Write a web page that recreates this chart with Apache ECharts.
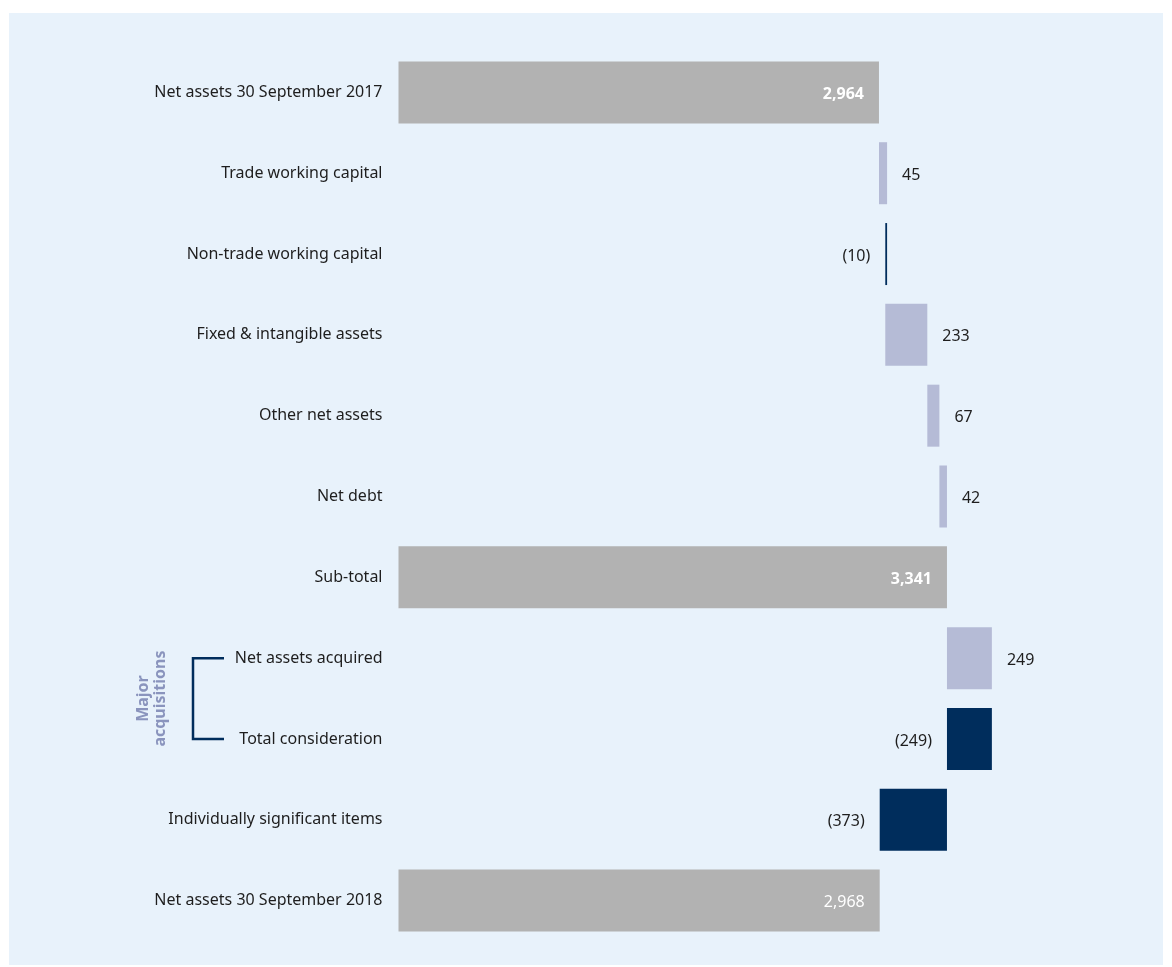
<!DOCTYPE html>
<html>
<head>
<meta charset="utf-8">
<script src="https://cdn.jsdelivr.net/npm/echarts@6/dist/echarts.min.js"></script>
<style>
  html, body { margin: 0; padding: 0; background: #ffffff; }
  #panel { position: absolute; left: 9px; top: 13px; width: 1154px; height: 952px; background: #e8f2fb; }
  #chart { width: 1154px; height: 952px; }
</style>
</head>
<body>
<div id="panel"><div id="chart"></div></div>
<script>
const categories = [
  'Net assets 30 September 2017',
  'Trade working capital',
  'Non-trade working capital',
  'Fixed & intangible assets',
  'Other net assets',
  'Net debt',
  'Sub-total',
  'Net assets acquired',
  'Total consideration',
  'Individually significant items',
  'Net assets 30 September 2018',
]
// totals are absolute levels, the rest are movements
const values = [2964, 45, -10, 233, 67, 42, 3341, 249, -249, -373, 2968]
const isTotal = [true, false, false, false, false, false, true, false, false, false, true]
const boldTotal = [true, false, false, false, false, false, true, false, false, false, false]
const bracketRows = ['Net assets acquired', 'Total consideration']
const bracketLabel = 'Major\nacquisitions'

const palette = {
  total: '#b2b2b2',
  up: '#b5bbd6',
  down: '#002d5c',
  text: '#1e1e1e',
  bracketText: '#8a94bd',
}
const FONT = '"Noto Sans", "Open Sans", sans-serif'

function formatNumber(v) {
  return Math.abs(v).toLocaleString('en-GB')
}

// running level -> invisible base + visible bar
const baseData = []
const barData = []
let level = 0
values.forEach((v, i) => {
  if (isTotal[i]) {
    level = v
    baseData.push(0)
    barData.push({
      value: v,
      itemStyle: { color: palette.total },
      label: {
        show: true,
        position: 'insideRight',
        distance: 15,
        color: '#ffffff',
        fontWeight: boldTotal[i] ? 'bold' : 'normal',
        formatter: formatNumber(v),
      },
    })
  } else {
    const next = level + v
    baseData.push(Math.min(level, next))
    barData.push({
      value: Math.abs(v),
      itemStyle: { color: v >= 0 ? palette.up : palette.down },
      label: {
        show: true,
        position: v >= 0 ? 'right' : 'left',
        distance: 15,
        color: palette.text,
        formatter: v >= 0 ? formatNumber(v) : `(${formatNumber(v)})`,
      },
    })
    level = next
  }
})

const chart = echarts.init(document.getElementById('chart'), null, { renderer: 'canvas' })

chart.setOption({
  backgroundColor: 'transparent',
  animation: false,
  textStyle: { fontFamily: FONT },
  grid: { left: 389.5, width: 703.4, top: 39, height: 889 },
  xAxis: {
    type: 'value',
    min: 300,
    max: 4200,
    show: false,
  },
  yAxis: {
    type: 'category',
    inverse: true,
    data: categories,
    axisLine: { show: false },
    axisTick: { show: false },
    axisLabel: { color: palette.text, fontSize: 16, margin: 16, fontFamily: FONT, padding: [4, 0, 0, 0] },
    splitLine: { show: false },
  },
  series: [
    {
      name: 'base',
      type: 'bar',
      stack: 'w',
      silent: true,
      barWidth: 62,
      itemStyle: { color: 'transparent' },
      data: baseData,
    },
    {
      name: 'value',
      type: 'bar',
      stack: 'w',
      barWidth: 62,
      label: { fontSize: 16, fontFamily: FONT, offset: [0, 2] },
      data: barData,
    },
  ],
})

// bracket for the acquisition rows, placed from the axis
const yTop = chart.convertToPixel({ yAxisIndex: 0 }, bracketRows[0])
const yBottom = chart.convertToPixel({ yAxisIndex: 0 }, bracketRows[1])
const bx = 184
const lineStyle = { stroke: palette.down, lineWidth: 2.5 }
chart.setOption({
  graphic: [
    { type: 'polyline', shape: { points: [[bx + 31, yTop], [bx, yTop], [bx, yBottom], [bx + 31, yBottom]] }, style: { ...lineStyle, fill: null } },
    {
      type: 'text',
      x: 143,
      y: (yTop + yBottom) / 2,
      rotation: Math.PI / 2,
      style: {
        text: bracketLabel,
        fill: palette.bracketText,
        font: `bold 16px ${FONT}`,
        lineHeight: 17,
        align: 'center',
        verticalAlign: 'middle',
      },
    },
  ],
})
</script>
</body>
</html>
